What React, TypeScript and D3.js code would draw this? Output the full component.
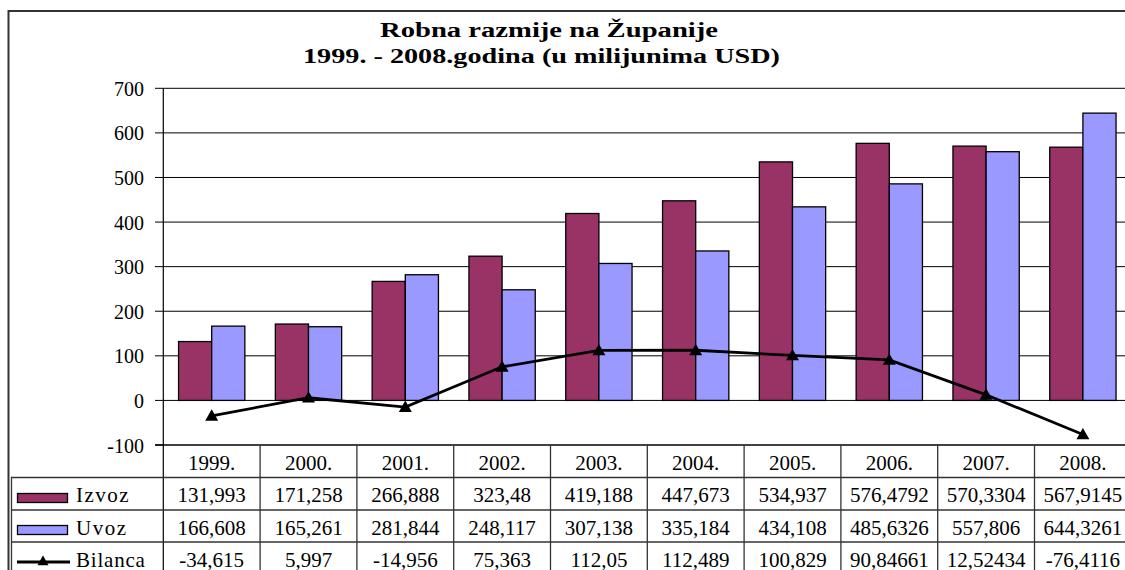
import React from "react";
import * as d3 from "d3";

const years = ["1999.", "2000.", "2001.", "2002.", "2003.", "2004.", "2005.", "2006.", "2007.", "2008."];
const izvoz = [131.993, 171.258, 266.888, 323.48, 419.188, 447.673, 534.937, 576.4792, 570.3304, 567.9145];
const uvoz = [166.608, 165.261, 281.844, 248.117, 307.138, 335.184, 434.108, 485.6326, 557.806, 644.3261];
const bilanca = [-34.615, 5.997, -14.956, 75.363, 112.05, 112.489, 100.829, 90.84661, 12.52434, -76.4116];
const yTicks = [-100, 0, 100, 200, 300, 400, 500, 600, 700];
const seriesNames = ["Izvoz", "Uvoz", "Bilanca"];
const titleLines = ["Robna razmije na Županije", "1999. - 2008.godina (u milijunima USD)"];

const COL_IZVOZ = "#993366";
const COL_UVOZ = "#9999FF";
const FONT = "Liberation Serif, Times New Roman, Times, serif";

const fmt = (v: number) => String(v).replace(".", ",");

export default function App() {
  const W = 1125, H = 570;
  const left = 163.3, right = 1131.3;
  const top = 88.3, bottom = 445;
  const x = d3.scaleBand<string>().domain(years).range([left, right]).paddingInner(0).paddingOuter(0);
  const sub = d3.scaleBand<string>().domain(["Izvoz", "Uvoz"]).range([0, x.bandwidth()]).paddingInner(0).paddingOuter(0.46);
  const y = d3.scaleLinear().domain([-100, 700]).range([bottom, top]);
  const cx = (i: number) => (x(years[i]) as number) + x.bandwidth() / 2;
  const line = d3.line<number>().x((_, i) => cx(i)).y((d) => y(d));

  const rowTops = [445, 477.5, 510, 542, 575];
  const tri = (px: number, py: number, s = 6.5) =>
    `M${px},${py - s} L${px + s},${py + s * 0.75} L${px - s},${py + s * 0.75} Z`;

  const rows = [izvoz, uvoz, bilanca];
  const ts = { fontFamily: FONT, fontSize: 21 } as React.CSSProperties;
  const titleSpans = [
    { x0: 380, x1: 718, y: 36.5 },
    { x0: 303, x1: 780, y: 62.5 },
  ];

  return (
    <svg width={W} height={H} style={{ position: "absolute", left: 0, top: 0, background: "#fff", fontFamily: FONT }}>
      <rect x={0} y={0} width={W} height={H} fill="#fff" />
      <rect x={8.5} y={11} width={1140} height={600} fill="none" stroke="#333" strokeWidth={2} />
      {titleLines.map((t, i) => (
        <text
          key={i}
          x={titleSpans[i].x0}
          y={titleSpans[i].y}
          textLength={titleSpans[i].x1 - titleSpans[i].x0}
          lengthAdjust="spacingAndGlyphs"
          style={{ fontFamily: FONT, fontWeight: "bold", fontSize: 20.5 }}
        >
          {t}
        </text>
      ))}
      {yTicks.map((t) => (
        <g key={t}>
          {t > -100 && <line x1={left} x2={right} y1={y(t)} y2={y(t)} stroke="#000" strokeWidth={1} />}
          <line x1={155} x2={left} y1={y(t)} y2={y(t)} stroke="#000" strokeWidth={1} />
          <text x={144} y={y(t) + 7.5} textAnchor="end" style={{ fontFamily: FONT, fontSize: 20 }}>
            {t}
          </text>
        </g>
      ))}
      {years.map((yr, i) => {
        const x0 = x(yr) as number;
        return (
          <g key={yr}>
            <rect x={x0 + (sub("Izvoz") as number)} y={y(izvoz[i])} width={sub.bandwidth()} height={y(0) - y(izvoz[i])} fill={COL_IZVOZ} stroke="#000" strokeWidth={1.3} />
            <rect x={x0 + (sub("Uvoz") as number)} y={y(uvoz[i])} width={sub.bandwidth()} height={y(0) - y(uvoz[i])} fill={COL_UVOZ} stroke="#000" strokeWidth={1.3} />
          </g>
        );
      })}
      <path d={line(bilanca) || ""} fill="none" stroke="#000" strokeWidth={2.8} />
      {bilanca.map((v, i) => (
        <path key={i} d={tri(cx(i), y(v))} fill="#000" />
      ))}
      <line x1={left} x2={left} y1={top} y2={H} stroke="#000" strokeWidth={1.2} />
      <line x1={155} x2={right} y1={445} y2={445} stroke="#000" strokeWidth={1.5} />
      {rowTops.slice(1).map((ry) => (
        <line key={ry} x1={11} x2={right} y1={ry} y2={ry} stroke="#333" strokeWidth={1.3} />
      ))}
      <line x1={11.5} x2={11.5} y1={477} y2={H} stroke="#333" strokeWidth={1.3} />
      {years.map((yr) => (
        <line key={yr} x1={(x(yr) as number) + x.bandwidth()} x2={(x(yr) as number) + x.bandwidth()} y1={445} y2={H} stroke="#333" strokeWidth={1.3} />
      ))}
      {years.map((yr, i) => (
        <text key={yr} x={cx(i)} y={469.5} textAnchor="middle" style={ts}>
          {yr}
        </text>
      ))}
      {rows.map((vals, r) => (
        <g key={r}>
          {vals.map((v, i) => (
            <text key={i} x={cx(i)} y={rowTops[r + 1] + 24.5} textAnchor="middle" style={ts}>
              {fmt(v)}
            </text>
          ))}
        </g>
      ))}
      <rect x={17.5} y={493.5} width={50} height={9} fill={COL_IZVOZ} stroke="#000" strokeWidth={1.3} />
      <rect x={17.5} y={525.5} width={50} height={9} fill={COL_UVOZ} stroke="#000" strokeWidth={1.3} />
      <line x1={17} x2={70} y1={562} y2={562} stroke="#000" strokeWidth={2.8} />
      <path d={tri(43, 561, 5.5)} fill="#000" />
      {seriesNames.map((n, r) => (
        <text key={n} x={76} y={rowTops[r + 1] + 24.5} style={{ ...ts, letterSpacing: r < 2 ? 1.5 : 0.8 }}>
          {n}
        </text>
      ))}
    </svg>
  );
}
